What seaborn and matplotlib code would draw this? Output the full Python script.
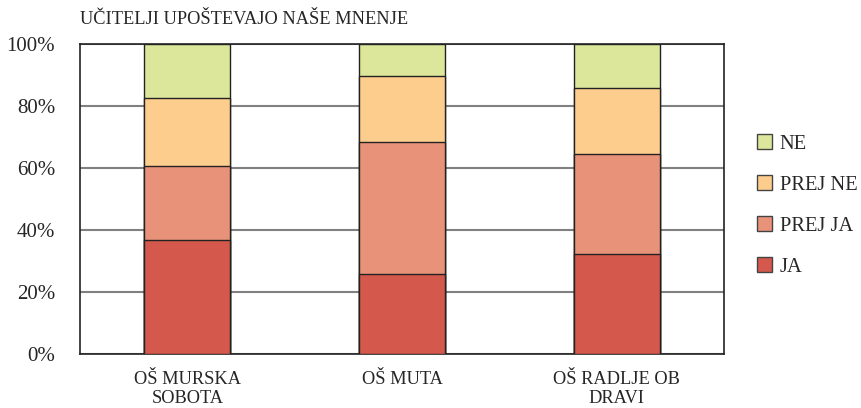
import matplotlib
matplotlib.use("Agg")
import matplotlib.pyplot as plt
import seaborn as sns
import pandas as pd
import numpy as np
from matplotlib.patches import Patch

schools = ["OŠ MURSKA\nSOBOTA", "OŠ MUTA", "OŠ RADLJE OB\nDRAVI"]
ja = [36.8, 25.8, 32.4]
prej_ja = [23.8, 42.7, 32.2]
prej_ne = [22.1, 21.3, 21.3]
ne = [17.3, 10.2, 14.1]
series_names = ["JA", "PREJ JA", "PREJ NE", "NE"]
colors = ["#D4584B", "#E9927A", "#FDCD8E", "#DCE79B"]
yticks = [0, 20, 40, 60, 80, 100]
title = "UČITELJI UPOŠTEVAJO NAŠE MNENJE"

sns.set_style("white")
plt.rcParams["font.family"] = ["Liberation Serif", "DejaVu Serif"]

fig = plt.figure(figsize=(8.61, 4.08), dpi=100)
ax = fig.add_axes([80/861, 1-354/408, 644/861, 310/408])

series = [ja, prej_ja, prej_ne, ne]
cum = np.cumsum(np.array(series), axis=0)
# draw from the top total down so each layer overlays the previous
for i in range(len(series) - 1, -1, -1):
    df = pd.DataFrame({"school": schools, "val": cum[i]})
    sns.barplot(data=df, x="school", y="val", color=colors[i], width=0.40,
                edgecolor="#222222", linewidth=1.0, saturation=1, ax=ax, zorder=3)

ax.set_ylim(0, 100)
ax.set_xlim(-0.5, 2.5)
ax.set_yticks(yticks)
ax.set_yticklabels([f"{v}%" for v in yticks])
ax.set_xlabel("")
ax.set_ylabel("")
ax.yaxis.grid(True, color="#808080", linewidth=1.5, zorder=0)
ax.set_axisbelow(True)
ax.tick_params(axis="y", length=0, pad=18, labelsize=15)
ax.tick_params(axis="x", length=0, pad=12, labelsize=13.2)
for lbl in ax.get_xticklabels():
    lbl.set_linespacing(1.2)
for s in ax.spines.values():
    s.set_visible(True)
    s.set_color("#222222")
    s.set_linewidth(1.2)

fig.text(80/861, 1-20/408, title, fontsize=13.2, va="center", ha="left")

handles = [Patch(facecolor=colors[i], edgecolor="#444444", label=series_names[i])
           for i in range(len(series) - 1, -1, -1)]
fig.legend(handles=handles, loc="upper left", bbox_to_anchor=(749/861, 1-126/408),
           frameon=False, fontsize=14.8, handlelength=0.7, handleheight=0.7,
           handletextpad=0.4, labelspacing=1.05, borderaxespad=0)

fig.savefig("out.png", dpi=100)
